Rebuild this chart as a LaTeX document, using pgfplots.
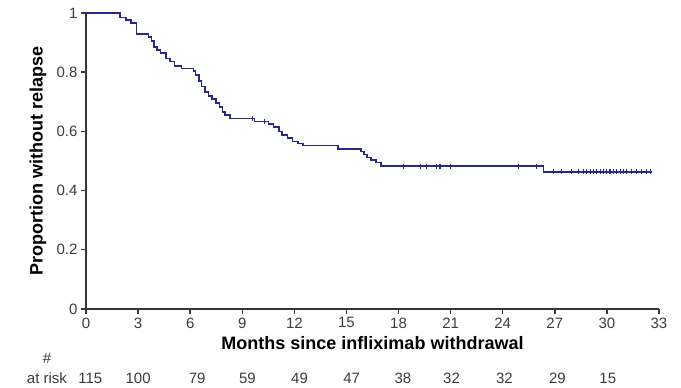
\documentclass[border=0pt]{standalone}
\usepackage{pgfplots}
\pgfplotsset{compat=1.18}
\usepackage{fontspec}
\setmainfont{Liberation Sans}
\definecolor{curve}{RGB}{40,40,140}
\definecolor{axisgray}{RGB}{55,55,55}
\definecolor{ticktext}{RGB}{60,60,60}
\begin{document}
\begin{tikzpicture}
\path[use as bounding box] (-86pt,-79pt) rectangle (595pt,309pt);
\begin{axis}[
  scale only axis,
  width=573pt, height=296pt,
  at={(0,0)}, anchor=south west,
  xmin=0, xmax=33, ymin=0, ymax=1,
  axis lines=left,
  axis line style={-, line width=1.6pt, color=axisgray},
  tick align=outside,
  major tick length=5pt,
  every tick/.style={line width=1.4pt, color=axisgray},
  xtick={0,3,...,33},
  ytick={0,0.2,0.4,0.6,0.8,1},
  yticklabels={0,0.2,0.4,0.6,0.8,1},
  /pgf/number format/assume math mode=true,
  tick label style={font=\fontsize{15}{17}\selectfont, color=ticktext},
  xlabel={Months since infliximab withdrawal},
  ylabel={Proportion without relapse},
  label style={font=\fontsize{18}{21}\selectfont\bfseries},
  xlabel style={at={(axis description cs:0.5,-0.115)}, anchor=center},
  ylabel style={at={(axis description cs:-0.084,0.5)}, anchor=center},
  clip=false,
]
\addplot[const plot, color=curve, line width=1.6pt] coordinates {
(0,1) (1.96,0.985) (2.3,0.976) (2.6,0.967) (2.9,0.93) (3.6,0.918) (3.78,0.905)
(3.9,0.886) (4.1,0.876) (4.3,0.864) (4.6,0.846) (4.85,0.836) (5.1,0.82)
(5.5,0.813) (6.2,0.804) (6.3,0.79) (6.5,0.77) (6.65,0.752) (6.85,0.734)
(7.05,0.72) (7.25,0.71) (7.5,0.695) (7.7,0.683) (7.85,0.665) (8.0,0.655)
(8.3,0.644) (9.7,0.633) (10.5,0.624) (10.8,0.614) (11.1,0.6) (11.3,0.588)
(11.6,0.578) (11.9,0.566) (12.2,0.559) (12.5,0.553) (14.5,0.54) (15.85,0.532)
(16.0,0.522) (16.2,0.512) (16.4,0.503) (16.7,0.495) (17.0,0.483) (26.35,0.463)
(32.6,0.463)
};
\addplot[only marks, mark=|, mark size=2.5pt, color=curve, mark options={line width=1.1pt}] coordinates {
(9.6,0.644) (10.3,0.633)
(18.27,0.483) (19.24,0.483) (19.62,0.483) (20.2,0.483) (20.39,0.483) (20.97,0.483)
(24.9,0.483) (25.96,0.483)
(26.92,0.463) (27.4,0.463) (27.98,0.463) (28.36,0.463) (28.65,0.463) (28.84,0.463)
(29.03,0.463) (29.22,0.463) (29.42,0.463) (29.61,0.463) (29.8,0.463) (29.99,0.463)
(30.18,0.463) (30.37,0.463) (30.57,0.463) (30.76,0.463) (30.95,0.463) (31.15,0.463)
(31.43,0.463) (31.72,0.463) (32.01,0.463) (32.3,0.463) (32.49,0.463)
};
\begin{scope}[every node/.style={font=\fontsize{15}{17}\selectfont, color=ticktext, anchor=center}]
\node at ([yshift=-49pt]axis cs:-2.25,0) {\#};
\node at ([yshift=-69pt]axis cs:-2.25,0) {at risk};
\node at ([yshift=-69pt]axis cs:0.25,0) {115};
\node at ([yshift=-69pt]axis cs:3,0) {100};
\node at ([yshift=-69pt]axis cs:6.4,0) {79};
\node at ([yshift=-69pt]axis cs:9.3,0) {59};
\node at ([yshift=-69pt]axis cs:12.3,0) {49};
\node at ([yshift=-69pt]axis cs:15.3,0) {47};
\node at ([yshift=-69pt]axis cs:18.25,0) {38};
\node at ([yshift=-69pt]axis cs:21.05,0) {32};
\node at ([yshift=-69pt]axis cs:24.1,0) {32};
\node at ([yshift=-69pt]axis cs:27.15,0) {29};
\node at ([yshift=-69pt]axis cs:30.05,0) {15};
\end{scope}
\end{axis}
\end{tikzpicture}
\end{document}
